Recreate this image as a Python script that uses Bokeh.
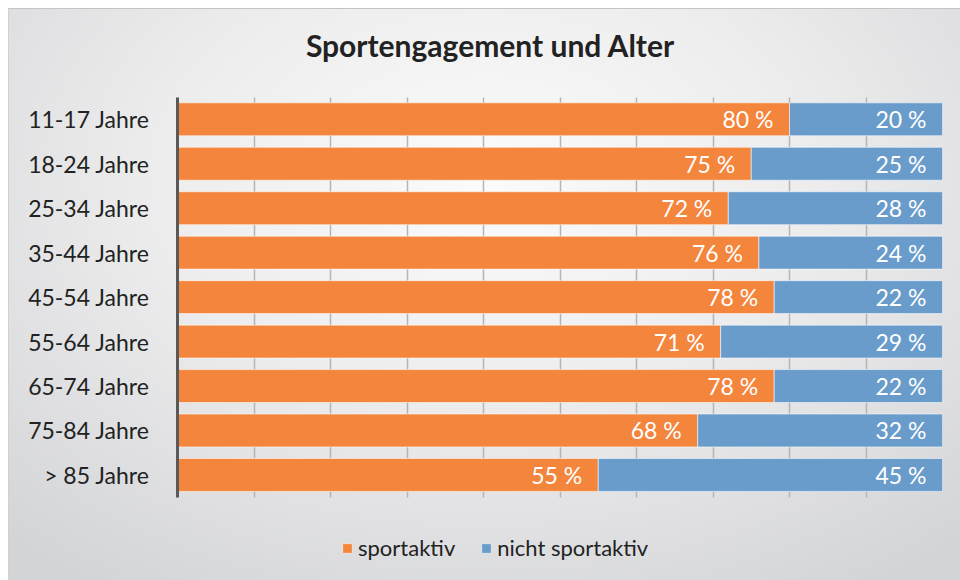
from bokeh.plotting import figure
from bokeh.models import ColumnDataSource, Range1d, FixedTicker, Legend, LegendItem, Grid, Label
from bokeh.core.properties import value
from bokeh.embed import file_html
from bokeh.resources import INLINE

title_text = "Sportengagement und Alter"
categories = ["11-17 Jahre", "18-24 Jahre", "25-34 Jahre", "35-44 Jahre", "45-54 Jahre",
              "55-64 Jahre", "65-74 Jahre", "75-84 Jahre", "> 85 Jahre"]
sportaktiv = [80, 75, 72, 76, 78, 71, 78, 68, 55]
nicht_sportaktiv = [20, 25, 28, 24, 22, 29, 22, 32, 45]
series_names = ["sportaktiv", "nicht sportaktiv"]
x_ticks = [0, 10, 20, 30, 40, 50, 60, 70, 80, 90, 100]

ORANGE = "#F4853D"
BLUE = "#699CCB"
FONT = "Lato"

n_cat = len(categories)
ypos = [n_cat - 1 - i for i in range(n_cat)]   # first category at the top

src = ColumnDataSource(dict(
    y=ypos,
    a_end=sportaktiv,
    n_start=sportaktiv,
    n_end=[a + n for a, n in zip(sportaktiv, nicht_sportaktiv)],
    a_lab=[f"{v} %" for v in sportaktiv],
    n_lab=[f"{v} %" for v in nicht_sportaktiv],
))

# frame covers the full height; the bar area occupies the slots -0.5 .. 8.5
p = figure(width=952, height=572, x_range=Range1d(0, 100), y_range=Range1d(-2.307, n_cat - 0.5 + 1.97),
           x_axis_location=None, output_backend="svg", toolbar_location=None,
           min_border_left=168, min_border_right=19, min_border_top=0, min_border_bottom=4)

p.styles = {"margin-left": "8px", "margin-top": "8px",
            "background": "radial-gradient(ellipse 75% 85% at 50% 30%, #fbfbfb 0%, #ededee 45%, #d3d4d6 100%)",
            "border-top": "1px solid #c4c4c4", "border-left": "1px solid #d0d0d0"}
p.background_fill_color = None
p.border_fill_color = None
p.outline_line_color = None

# grid (vertical lines only within the bar area)
p.xgrid.grid_line_color = None
p.ygrid.grid_line_color = None
grid = Grid(dimension=0, ticker=FixedTicker(ticks=x_ticks), cross_bounds=(-0.5, n_cat - 0.5),
            grid_line_color="#b4b4b4", grid_line_width=1.5)
p.add_layout(grid)

r1 = p.hbar(y="y", left=0, right="a_end", height=0.74, source=src,
            fill_color=ORANGE, line_color="white", line_alpha=0.55, line_width=1)
r2 = p.hbar(y="y", left="n_start", right="n_end", height=0.74, source=src,
            fill_color=BLUE, line_color="white", line_alpha=0.55, line_width=1)

p.text(x="a_end", y="y", text="a_lab", source=src, x_offset=-16, text_align="right",
       text_baseline="middle", text_color="white", text_font=value(FONT), text_font_size="23px")
p.text(x="n_end", y="y", text="n_lab", source=src, x_offset=-16, text_align="right",
       text_baseline="middle", text_color="white", text_font=value(FONT), text_font_size="23px")

# y axis with category labels
p.yaxis.ticker = FixedTicker(ticks=ypos)
p.yaxis.major_label_overrides = {y: c for y, c in zip(ypos, categories)}
p.yaxis.bounds = (-0.5, n_cat - 0.5)
p.yaxis.axis_line_color = "#595959"
p.yaxis.axis_line_width = 3
p.yaxis.major_tick_line_color = None
p.yaxis.minor_tick_line_color = None
p.yaxis.major_label_text_font = FONT
p.yaxis.major_label_text_font_size = "23px"
p.yaxis.major_label_text_color = "#222222"
p.yaxis.major_label_standoff = 22

title = Label(text=title_text, x=313, y=533, x_units="screen", y_units="screen",
              text_align="center", text_baseline="middle", text_font=FONT,
              text_font_style="bold", text_font_size="30px", text_color="#222222")
p.add_layout(title)

legend = Legend(items=[LegendItem(label=series_names[0], renderers=[r1]),
                       LegendItem(label=series_names[1], renderers=[r2])],
                orientation="horizontal", location=(164, 16),
                border_line_color=None, background_fill_alpha=0,
                label_text_font=FONT, label_text_font_size="22px", label_text_color="#222222",
                glyph_width=12, glyph_height=12, spacing=25, label_standoff=5,
                padding=0, margin=0)
p.add_layout(legend, "center")

open("out.html", "w").write(file_html(p, INLINE))
